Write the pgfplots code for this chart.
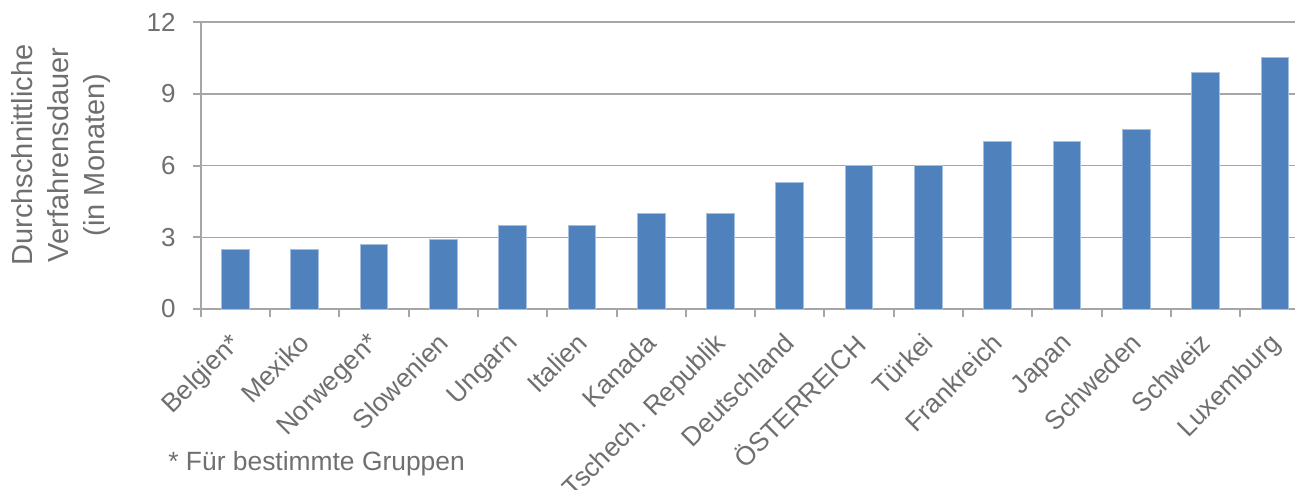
\documentclass[border=0pt]{standalone}
\usepackage{fontspec}
\setmainfont{Liberation Sans}
\usepackage{pgfplots}
\pgfplotsset{compat=1.18}
\definecolor{barblue}{HTML}{4F81BD}
\definecolor{baredge}{HTML}{A7BFDE}
\definecolor{txt}{HTML}{6F6F6F}
\definecolor{gridc}{HTML}{A6A6A6}
\begin{document}
\begin{tikzpicture}
\begin{axis}[
  at={(0,0)}, anchor=south west,
  scale only axis, width=547.15pt, height=143.5pt,
  xmin=-0.5, xmax=15.29, ymin=0, ymax=12,
  ytick={0,3,6,9,12},
  xtick={-0.5,0.5,...,14.5},
  xticklabels={},
  extra x ticks={0,1,...,15},
  extra x tick labels={Belgien*,Mexiko,Norwegen*,Slowenien,Ungarn,Italien,Kanada,Tschech. Republik,Deutschland,ÖSTERREICH,Türkei,Frankreich,Japan,Schweden,Schweiz,Luxemburg},
  extra x tick style={major tick length=0pt},
  xticklabel style={xshift=-3.5pt, yshift=-9.5pt, rotate=45, anchor=north east, font=\fontsize{13.2}{15}\selectfont, text=txt, inner sep=1pt},
  yticklabel style={xshift=-5pt, font=\fontsize{13}{15}\selectfont, text=txt},
  /pgf/number format/assume math mode=true,
  axis x line*=bottom, axis y line*=left,
  axis line style={gridc, line width=1pt},
  ymajorgrids, grid style={gridc, line width=0.75pt},
  tick align=outside, major tick length=4pt,
  tick style={gridc, line width=1pt},
  clip=false,
]
\addplot[ybar, bar width=0.4, fill=barblue, draw=baredge, line width=0.5pt] coordinates {
(0,2.5) (1,2.5) (2,2.7) (3,2.9) (4,3.5) (5,3.5) (6,4) (7,4) (8,5.3) (9,6) (10,6) (11,7) (12,7) (13,7.5) (14,9.9) (15,10.5)};
\end{axis}
\node[rotate=90, align=center, text=txt, font=\fontsize{14.5}{18}\selectfont] at (-69.85pt,77pt) {Durchschnittliche\\Verfahrensdauer\\(in Monaten)};
\node[anchor=base west, text=txt, font=\fontsize{13.2}{15}\selectfont, inner sep=0pt] at (-16.35pt,-80.5pt) {* Für bestimmte Gruppen};
\pgfresetboundingbox
\path[use as bounding box] (-100.35pt,-90pt) rectangle (547.15pt,154.5pt);
\end{tikzpicture}
\end{document}
